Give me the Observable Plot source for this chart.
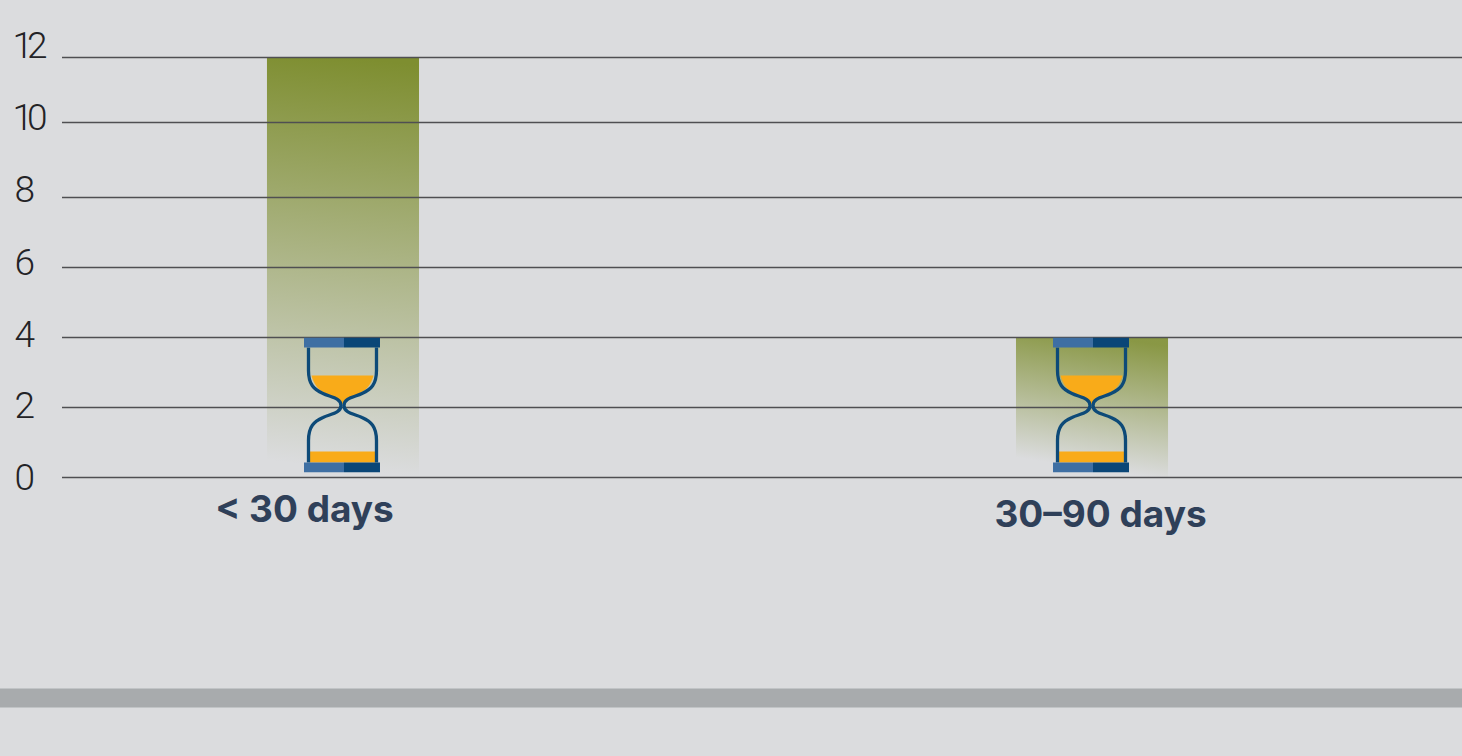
<!DOCTYPE html>
<html>
<head>
<meta charset="utf-8">
<script src="https://cdn.jsdelivr.net/npm/d3@7"></script>
<script src="https://cdn.jsdelivr.net/npm/@observablehq/plot@0.6"></script>
<style>
html,body{margin:0;padding:0;background:#dbdcde;overflow:hidden}
svg{display:block}
</style>
</head>
<body>
<div id="chart"></div>
<script>
const categories = ["< 30 days", "30–90 days"];
const values = [12, 4];
const tickValues = [0, 2, 4, 6, 8, 10, 12];
const labelShift = [1, -1, -2, -4, -7, -4, -11];
const labelInset = [-48, -48, -48, -48, -48, -50, -50];
const gridPositions = [477, 407, 337, 267, 197, 122, 57];
const gradientIds = ["barFadeA", "barFadeB"];
const bars = categories.map((c, i) => ({category: c, value: values[i], fill: `url(#${gradientIds[i]})`}));

const hourglass = `<svg xmlns="http://www.w3.org/2000/svg" width="76" height="135" viewBox="0 0 76 135">
<path fill="#f9ab19" d="M7.5 38H69.5C67 47 63 52 57 55C49 59 40 61 38.5 67C37 61 28 59 20 55C14 52 10 47 7.5 38Z"/>
<rect fill="#f9ab19" x="5.5" y="114" width="66" height="11"/>
<path fill="none" stroke="#0d4a78" stroke-width="3.3" d="M4.5 10V33C4.5 47 10 52 19 56C26 59.5 37 60 37 68C37 76 26 76.5 19 80C10 84 4.5 89 4.5 103V125"/>
<path fill="none" stroke="#0d4a78" stroke-width="3.3" d="M72.5 10V33C72.5 47 67 52 58 56C51 59.5 40 60 40 68C40 76 51 76.5 58 80C67 84 72.5 89 72.5 103V125"/>
<rect fill="#3e6fa3" y="0" width="40" height="10"/><rect fill="#0a4677" x="40" y="0" width="36" height="10"/>
<rect fill="#3e6fa3" y="125" width="40" height="10"/><rect fill="#0a4677" x="40" y="125" width="36" height="10"/>
</svg>`;
const hourglassSrc = "data:image/svg+xml," + encodeURIComponent(hourglass);

const gradientDefs = () => {
  const defs = d3.create("svg:defs");
  const a = defs.append("linearGradient").attr("id", gradientIds[0])
    .attr("x1", 0.52).attr("y1", 0).attr("x2", 0.48).attr("y2", 1);
  a.append("stop").attr("offset", "0").attr("stop-color", "#7e8e30").attr("stop-opacity", 1);
  a.append("stop").attr("offset", "0.98").attr("stop-color", "#7e8e30").attr("stop-opacity", 0);
  const b = defs.append("linearGradient").attr("id", gradientIds[1])
    .attr("x1", 0.58).attr("y1", 0).attr("x2", 0.42).attr("y2", 1);
  b.append("stop").attr("offset", "0").attr("stop-color", "#7e8e30").attr("stop-opacity", 0.88);
  b.append("stop").attr("offset", "0.93").attr("stop-color", "#7e8e30").attr("stop-opacity", 0);
  return defs.node();
};

const labelFont = {fontFamily: "Roboto", fontWeight: 300, fontSize: 37, fill: "#232326"};
const catFont = {fontFamily: "Inter", fontWeight: 700, fontSize: 37, fill: "#2f4059"};

const chart = Plot.plot({
  width: 1462, height: 756,
  marginLeft: 62, marginRight: 0, marginTop: 0, marginBottom: 0,
  style: {background: "#dbdcde"},
  x: {type: "band", domain: categories, range: [-330, 1765], padding: 0.797, round: false, axis: null},
  y: {type: "linear", domain: tickValues, range: gridPositions, axis: null},
  marks: [
    gradientDefs,
    Plot.ruleY([-6.3], {stroke: "#a8abad", strokeWidth: 19, insetLeft: -62}),
    Plot.barY(bars, {x: "category", y: "value", fill: "fill"}),
    Plot.ruleY(tickValues, {stroke: "#4f4f52", strokeWidth: 1.6}),
    Plot.image(bars, {x: "category", y: () => 2, dx: -1.5, dy: -2.5, src: () => hourglassSrc, width: 76, height: 135}),
    ...tickValues.map((t, i) => Plot.text([t], {
      y: d => d, frameAnchor: "left", dx: labelInset[i], dy: labelShift[i], textAnchor: "start", text: d => String(d), ...labelFont
    })),
    Plot.text([categories[0]], {x: d => d, y: () => 0, dx: -39, dy: 33, text: d => d, ...catFont}),
    Plot.text([categories[1]], {x: d => d, y: () => 0, dx: 8, dy: 38, text: d => d, ...catFont})
  ]
});
d3.select(chart).selectAll("text").filter(function () { return /^1\d$/.test(this.textContent); })
  .style("letter-spacing", "-6px");
document.getElementById("chart").append(chart);
</script>
</body>
</html>
